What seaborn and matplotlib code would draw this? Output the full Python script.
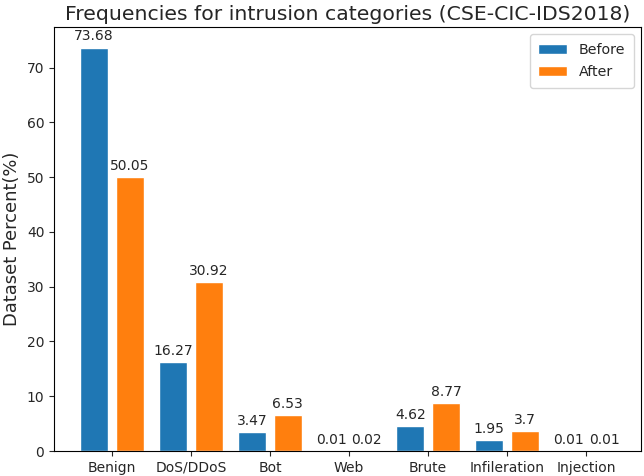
import matplotlib
matplotlib.use("Agg")
import matplotlib.pyplot as plt
import seaborn as sns
import pandas as pd

categories = ["Benign", "DoS/DDoS", "Bot", "Web", "Brute", "Infileration", "Injection"]
before = [73.68, 16.27, 3.47, 0.01, 4.62, 1.95, 0.01]
after = [50.05, 30.92, 6.53, 0.02, 8.77, 3.7, 0.01]
series = ["Before", "After"]

df = pd.DataFrame({
    "category": categories * 2,
    "value": before + after,
    "series": [series[0]] * len(categories) + [series[1]] * len(categories),
})

sns.set_style("ticks")
plt.rcParams['font.family'] = ['DejaVu Sans']

fig = plt.figure(figsize=(6.44, 4.76), dpi=100)
ax = fig.add_axes([0.084, 0.0525, 0.911, 0.8905])
sns.barplot(data=df, x="category", y="value", hue="series",
            palette=["#1f77b4", "#ff7f0e"], width=0.9, gap=0.21,
            saturation=1, ax=ax, errorbar=None)

for c in ax.containers:
    labels = [f"{v:g}" for v in c.datavalues]
    ax.bar_label(c, labels=labels, padding=3, fontsize=10)

ax.set_xlim(-0.73, 6.69)
ax.set_ylim(0, 77.4)
ax.set_xlabel("")
ax.set_ylabel("Dataset Percent(%)", fontsize=12.9)
ax.set_title("Frequencies for intrusion categories (CSE-CIC-IDS2018)", fontsize=14.7, pad=5)
ax.tick_params(labelsize=10)
for s in ax.spines.values():
    s.set_visible(True)
    s.set_color("black")
ax.legend(loc="upper right", fontsize=10.3, title=None, borderpad=0.6,
          labelspacing=0.6)

fig.savefig("out.png", dpi=100)
